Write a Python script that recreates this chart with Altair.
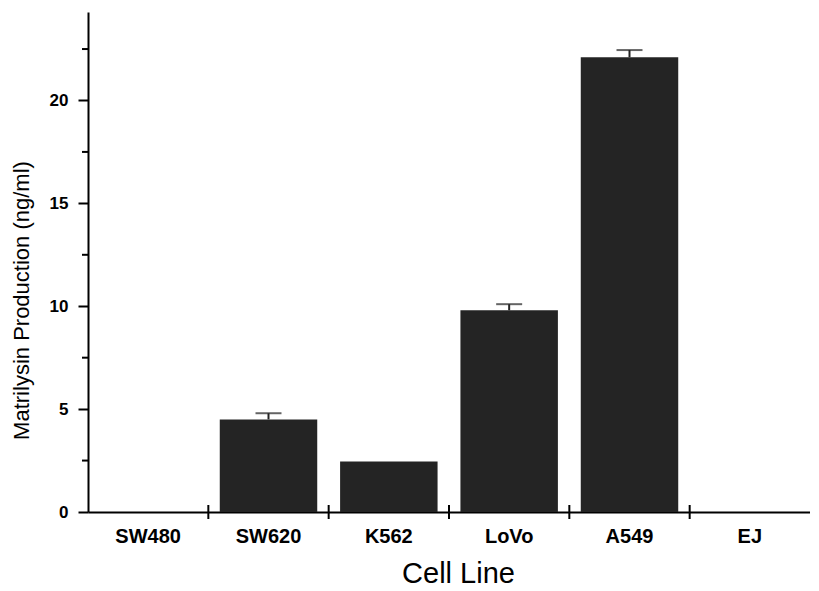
import altair as alt
import pandas as pd

cell_lines = ["SW480", "SW620", "K562", "LoVo", "A549", "EJ"]
production = [0.0, 4.5, 2.45, 9.8, 22.1, 0.0]
error = [0.0, 0.3, 0.0, 0.3, 0.35, 0.0]
major_ticks = [0, 5, 10, 15, 20]
minor_ticks = [2.5, 7.5, 12.5, 17.5, 22.5]
y_max = 24.3

df = pd.DataFrame({"cell": cell_lines, "value": production, "err": error})
df_err = df[df["err"] > 0].copy()
df_err["top"] = df_err["value"] + df_err["err"]
df_bound = pd.DataFrame({"cell": cell_lines[1:]})
df_minor = pd.DataFrame({"v": minor_ticks})

FONT = "Liberation Sans"
xscale = alt.Scale(domain=cell_lines, paddingInner=0, paddingOuter=0)
yscale = alt.Scale(domain=[0, y_max], nice=False, zero=True)

x_axis = alt.Axis(
    title="Cell Line", titleFont=FONT, titleFontSize=29, titleFontWeight="normal",
    titleColor="black", titleX=370, titleY=70, titleBaseline="alphabetic",
    labelAngle=0, labelFont=FONT, labelFontSize=20, labelFontWeight="bold",
    labelColor="black", labelBaseline="alphabetic", labelPadding=30,
    ticks=False, tickSize=0, domainColor="black", domainWidth=2, grid=False,
)
y_axis = alt.Axis(
    title="Matrilysin Production (ng/ml)", titleFont=FONT, titleFontSize=22,
    titleFontWeight="normal", titleColor="black", titleX=-60, titleY=288,
    titleBaseline="alphabetic", titleAlign="center",
    values=major_ticks, labelFont=FONT, labelFontSize=17, labelFontWeight="bold",
    labelColor="black", labelPadding=10, tickSize=10, tickWidth=2, tickColor="black",
    domainColor="black", domainWidth=2, grid=False,
)

bars = alt.Chart(df).mark_bar(
    color="#242424", strokeWidth=0,
    width=alt.RelativeBandSize(0.81),
).encode(
    x=alt.X("cell:N", scale=xscale, axis=x_axis, sort=cell_lines),
    y=alt.Y("value:Q", scale=yscale, axis=y_axis),
)

err_rule = alt.Chart(df_err).mark_rule(color="#222222", strokeWidth=2).encode(
    x=alt.X("cell:N", scale=xscale, sort=cell_lines),
    y=alt.Y("value:Q", scale=yscale),
    y2="top:Q",
)
err_cap = alt.Chart(df_err).mark_tick(color="#222222", thickness=2, size=26).encode(
    x=alt.X("cell:N", scale=xscale, sort=cell_lines),
    y=alt.Y("top:Q", scale=yscale),
)

bound_ticks = alt.Chart(df_bound).mark_rule(color="black", strokeWidth=2).encode(
    x=alt.X("cell:N", scale=xscale, sort=cell_lines, bandPosition=0),
    y=alt.value(493),
    y2=alt.value(507),
)

minor = alt.Chart(df_minor).mark_rule(color="black", strokeWidth=2).encode(
    y=alt.Y("v:Q", scale=yscale),
    x=alt.value(-6),
    x2=alt.value(0),
)

chart = alt.layer(bars, err_rule, err_cap, bound_ticks, minor).properties(
    width=722, height=500,
    padding={"left": 80, "top": 4, "right": 0, "bottom": 78},
    autosize=alt.AutoSizeParams(type="none"),
    background="white",
).configure_view(stroke=None)

chart.save("out.html", embed_options={"renderer": "svg", "actions": False})
